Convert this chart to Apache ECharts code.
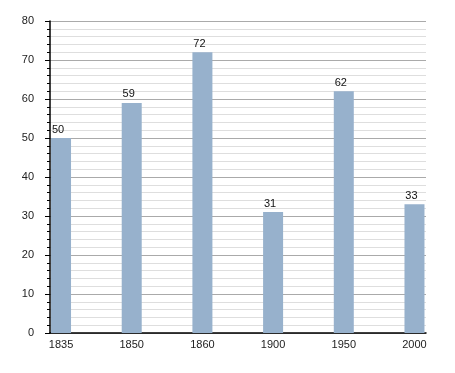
<!DOCTYPE html>
<html><head><meta charset="utf-8">
<script src="https://cdn.jsdelivr.net/npm/echarts@6/dist/echarts.min.js"></script>
<style>html,body{margin:0;padding:0;background:#fff}#c{width:455px;height:373px}</style>
</head><body><div id="c"></div>
<script>
const categories = ['1835', '1850', '1860', '1900', '1950', '2000'];
const values = [50, 59, 72, 31, 62, 33];
const yTicks = [0, 10, 20, 30, 40, 50, 60, 70, 80];

const chart = echarts.init(document.getElementById('c'), null, {renderer: 'canvas'});
const font = 'Liberation Sans, Arial, sans-serif';
chart.setOption({
  animation: false,
  backgroundColor: '#fff',
  grid: {left: 50, right: 29, top: 21, bottom: 40, containLabel: false},
  xAxis: {
    type: 'value',
    min: -0.156, max: 5.163,
    splitLine: {show: false},
    axisTick: {show: false},
    axisLine: {show: true, onZero: false, lineStyle: {color: '#000', width: 1.5}},
    axisLabel: {
      customValues: categories.map((c, i) => i),
      formatter: v => categories[Math.round(v)],
      color: '#222', fontFamily: font, fontSize: 11, margin: 6
    }
  },
  yAxis: {
    type: 'value', min: yTicks[0], max: yTicks[yTicks.length - 1], interval: 10,
    axisLine: {show: true, onZero: false, lineStyle: {color: '#000', width: 1.5}},
    axisTick: {show: true, length: 5, lineStyle: {color: '#000'}},
    minorTick: {show: true, splitNumber: 5, length: 3, lineStyle: {color: '#000'}},
    splitLine: {show: true, lineStyle: {color: '#aaa', width: 1}},
    minorSplitLine: {show: true, lineStyle: {color: '#dedede', width: 1}},
    axisLabel: {color: '#222', fontFamily: font, fontSize: 11, margin: 16}
  },
  series: [{
    type: 'bar',
    barWidth: 20,
    data: values.map((v, i) => [i, v]),
    itemStyle: {color: '#97b1cc'},
    label: {show: true, position: 'top', offset: [-3, 0], color: '#111', fontFamily: font, fontSize: 11, distance: 3}
  }]
});
</script></body></html>
